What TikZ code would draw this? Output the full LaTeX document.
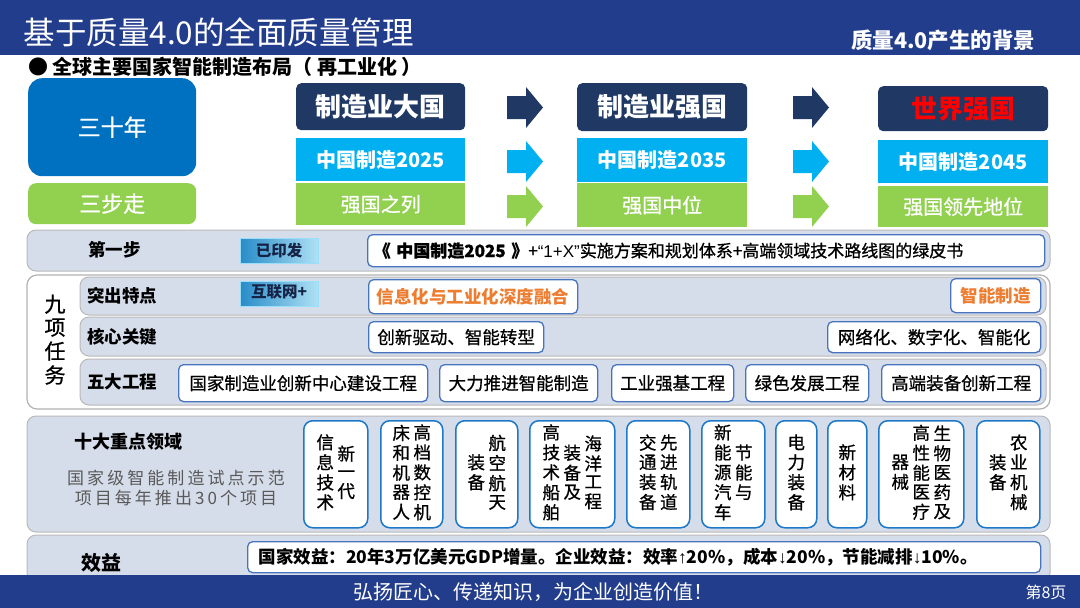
\documentclass[tikz,border=0pt]{standalone}
\usepackage{fontspec}
\setmainfont{Noto Sans CJK SC}
\newfontfamily\spacedfont{Noto Sans CJK SC}[LetterSpace=18]
\newfontfamily\medfont{Noto Sans CJK SC}[FakeBold=0.8]
\newfontfamily\latinfont{Liberation Sans}
\usepackage{tikz}
\usetikzlibrary{positioning}

\definecolor{bannerblue}{RGB}{35,61,141}
\definecolor{navybox}{RGB}{31,56,100}
\definecolor{skyblue}{RGB}{0,176,240}
\definecolor{leafgreen}{RGB}{146,208,80}
\definecolor{oceanblue}{RGB}{0,112,192}
\definecolor{mist}{RGB}{214,221,234}
\definecolor{boxblue}{RGB}{72,116,190}
\definecolor{vblue}{RGB}{30,120,200}
\definecolor{tagdark}{RGB}{40,140,200}
\definecolor{taglight}{RGB}{175,225,245}
\definecolor{navytext}{RGB}{20,35,70}
\definecolor{accentorange}{RGB}{237,125,49}
\definecolor{softgray}{RGB}{89,89,89}

\newcommand{\pxfont}[1]{\fontsize{#1}{#1}\selectfont}
\newcommand{\vcol}[1]{\begin{tabular}{@{}c@{}}#1\end{tabular}}

\begin{document}
\begin{tikzpicture}[x=1pt, y=-1pt,
  tile/.style={anchor=north west, inner sep=0pt},
  darkbox/.style={tile, fill=navybox, rounded corners=5pt, text=white, font=\bfseries\pxfont{26}},
  planbox/.style={tile, fill=skyblue, text=white, font=\bfseries\pxfont{20}},
  rankbox/.style={tile, fill=leafgreen, text=white, font=\medfont\pxfont{20}},
  panel/.style={draw=gray!60, line width=1.2pt, rounded corners=10pt},
  rowband/.style={draw=gray!55, line width=1pt, fill=mist, rounded corners=9pt},
  rowlabel/.style={anchor=west, inner sep=0pt, font=\bfseries\pxfont{17.5}},
  tagbox/.style={tile, draw=skyblue!40, left color=tagdark, right color=taglight, minimum width=78pt, minimum height=25pt, text=navytext, font=\bfseries\pxfont{15.5}},
  infobox/.style={tile, draw=boxblue, line width=1.3pt, fill=white, rounded corners=5pt, font=\medfont\pxfont{17.5}},
  vbox/.style={tile, draw=vblue, line width=1.5pt, fill=white, rounded corners=9pt, minimum height=107pt, font=\medfont\fontsize{17.5}{17.5}\selectfont}]
\useasboundingbox (0,0) rectangle (1080,608);

% header
\fill[bannerblue] (0,0) rectangle (1080,55);
\node[anchor=west, text=white, font=\pxfont{31.5}] (title) at (20,32) {基于质量4.0的全面质量管理};
\node[anchor=east, text=white, font=\bfseries\pxfont{21.5}] (topic) at (1039,40) {质量4.0产生的背景};
\node[anchor=west, inner sep=0pt, font=\bfseries\pxfont{20}] (bullet) at (28,67) {● 全球主要国家智能制造布局（ 再工业化 ）};

% three steps
\node[tile, fill=oceanblue, rounded corners=14pt, minimum width=168pt, minimum height=98pt, text=white, font=\medfont\pxfont{23}] (years) at (28,78) {三十年};
\node[tile, fill=leafgreen, rounded corners=8pt, minimum width=168pt, minimum height=41pt, text=white, font=\medfont\pxfont{22}] (steps) at (28,183) {三步走};

\node[darkbox, minimum width=169pt, minimum height=47pt] (goal1) at (296,83) {制造业大国};
\node[darkbox, minimum width=170pt, minimum height=48pt] (goal2) at (577,83) {制造业强国};
\node[darkbox, minimum width=170pt, minimum height=45pt, text=red] (goal3) at (878,86) {世界强国};
\node[planbox, minimum width=169pt, minimum height=43pt] (plan1) at (296,138) {中国制造2025};
\node[planbox, minimum width=170pt, minimum height=44pt] (plan2) at (577,138) {中国制造2035};
\node[planbox, minimum width=170pt, minimum height=43pt] (plan3) at (878,140) {中国制造2045};
\node[rankbox, minimum width=169pt, minimum height=42pt] (rank1) at (296,183) {强国之列};
\node[rankbox, minimum width=170pt, minimum height=44pt] (rank2) at (577,183) {强国中位};
\node[rankbox, minimum width=170pt, minimum height=41pt] (rank3) at (878,186) {强国领先地位};

% block arrows
\foreach \ax in {507,793} {
  \foreach \ay/\acol in {87/navybox,141/skyblue,186/leafgreen} {
    \fill[\acol] (\ax,\ay+9) -- ++(19,0) -- ++(0,-9) -- ++(17,20.5) -- ++(-17,20.5) -- ++(0,-9) -- ++(-19,0) -- cycle;
  }
}

% first step
\draw[rowband] (27,230) rectangle (1050,271);
\node[rowlabel] (step) at (88,250) {第一步};
\node[tagbox] (printed) at (240,238) {已印发};
\node[infobox, text width=665pt, inner xsep=6pt, minimum height=32pt, align=left, font=\medfont\pxfont{17}] (greenbook) at (367,234) {\textbf{《 中国制造2025 》}+{\latinfont “1+X”}实施方案和规划体系+高端领域技术路线图的绿皮书};

% nine tasks
\draw[panel, fill=white] (27,275) rectangle (1050,409);
\node[inner sep=0pt, font=\medfont\pxfont{21}] (ninetasks) at (55,342) {\vcol{九\\项\\任\\务}};
\draw[rowband] (80,277) rectangle (1046,315);
\draw[rowband] (80,317) rectangle (1046,356);
\draw[rowband] (80,359) rectangle (1046,405);
\node[rowlabel] (feature) at (87,296) {突出特点};
\node[rowlabel] (core) at (87,337) {核心关键};
\node[rowlabel] (five) at (87,382) {五大工程};
\node[tagbox, text depth=5pt] (internet) at (240,281) {互联网+};
\node[infobox, minimum width=209pt, minimum height=34pt, text=accentorange, font=\bfseries\pxfont{17.5}] (fusion) at (368,279) {信息化与工业化深度融合};
\node[infobox, minimum width=90pt, minimum height=34pt, text=accentorange, font=\bfseries\pxfont{17.5}] (smart) at (950,278) {智能制造};
\node[infobox, minimum width=175pt, minimum height=31pt] (drive) at (368,321) {创新驱动、智能转型};
\node[infobox, minimum width=213pt, minimum height=31pt] (digital) at (827,321) {网络化、数字化、智能化};
\foreach \px/\pw/\ptext [count=\i] in {178/249pt/国家制造业创新中心建设工程, 439/158pt/大力推进智能制造, 611/122pt/工业强基工程, 745/123pt/绿色发展工程, 881/159pt/高端装备创新工程}
  \node[infobox, minimum width=\pw, minimum height=37pt] (proj\i) at (\px,364) {\ptext};

% ten fields
\draw[rowband] (27,416) rectangle (1050,532);
\node[rowlabel, font=\bfseries\pxfont{18}] (tenfields) at (74,442) {十大重点领域};
\node[inner sep=0pt, align=center, text=softgray, font=\spacedfont\fontsize{17}{20}\selectfont] (pilot) at (176,488) {国家级智能制造试点示范\\项目每年推出30个项目};
\node[vbox, minimum width=64pt] (field1) at (303,420) {\vcol{信\\息\\技\\术}\hspace{3.5pt}\vcol{新\\一\\代}};
\node[vbox, minimum width=62pt] (field2) at (380,420) {\vcol{床\\和\\机\\器\\人}\hspace{3.5pt}\vcol{高\\档\\数\\控\\机}};
\node[vbox, minimum width=62pt] (field3) at (455,420) {\vcol{装\\备}\hspace{3.5pt}\vcol{航\\空\\航\\天}};
\node[vbox, minimum width=85pt] (field4) at (529,420) {\vcol{高\\技\\术\\船\\舶}\hspace{3.5pt}\vcol{装\\备\\及}\hspace{3.5pt}\vcol{海\\洋\\工\\程}};
\node[vbox, minimum width=63pt] (field5) at (626,420) {\vcol{交\\通\\装\\备}\hspace{3.5pt}\vcol{先\\进\\轨\\道}};
\node[vbox, minimum width=63pt] (field6) at (701,420) {\vcol{新\\能\\源\\汽\\车}\hspace{3.5pt}\vcol{节\\能\\与}};
\node[vbox, minimum width=41pt] (field7) at (775,420) {\vcol{电\\力\\装\\备}};
\node[vbox, minimum width=39pt] (field8) at (827,420) {\vcol{新\\材\\料}};
\node[vbox, minimum width=85pt] (field9) at (878,420) {\vcol{器\\械}\hspace{3.5pt}\vcol{高\\性\\能\\医\\疗}\hspace{3.5pt}\vcol{生\\物\\医\\药\\及}};
\node[vbox, minimum width=63pt] (field10) at (976,420) {\vcol{装\\备}\hspace{3.5pt}\vcol{农\\业\\机\\械}};

% benefit
\draw[rowband] (27,535) rectangle (1050,582);
\node[rowlabel, font=\bfseries\pxfont{20}] (benefit) at (81,563) {效益};
\node[infobox, text width=771pt, inner xsep=11pt, minimum height=31pt, align=left, font=\bfseries\pxfont{17.5}] (gain) at (247,541) {国家效益：20年3万亿美元GDP增量。企业效益：效率{\latinfont ↑}20\%，成本{\latinfont ↓}20\%，节能减排{\latinfont ↓}10\%。};

% footer
\fill[bannerblue] (0,575) rectangle (1080,608);
\node[text=white, font=\pxfont{20}] (slogan) at (533,592) {弘扬匠心、传递知识，为企业创造价值！};
\node[anchor=east, text=white, font=\pxfont{16}] (page) at (1070,592) {第8页};
\end{tikzpicture}
\end{document}
